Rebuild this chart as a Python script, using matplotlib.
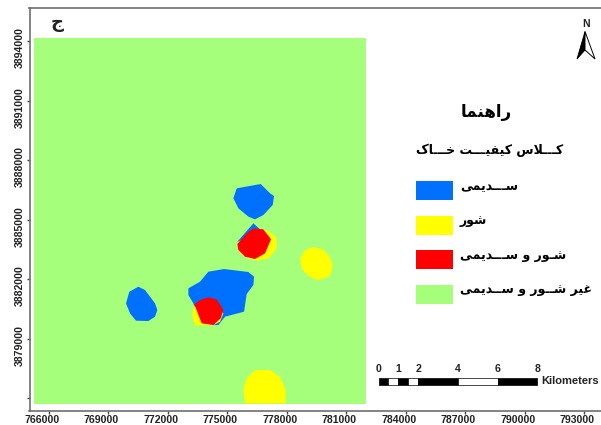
import matplotlib
matplotlib.use("Agg")
import matplotlib.pyplot as plt
from matplotlib.patches import Polygon, Rectangle
from matplotlib.transforms import ScaledTranslation

# map extent and ticks (metres)
x_ticks = list(range(766000, 796000, 3000))
y_ticks = list(range(3876000, 3897000, 3000))
y_labels = ["", "3879000", "3882000", "3885000", "3888000", "3891000", "3894000"]
x_range = (765042, 793857)
y_range = (3875370, 3895664)

study_area = [(765270, 3875700), (782010, 3875700), (782010, 3894150), (765270, 3894150)]

# soil class patches
sodic_north = [(775489, 3886571), (776700, 3886790), (777170, 3886319), (777372, 3886185), (777305, 3885731),
               (776834, 3885227), (776414, 3885008), (776077, 3885143), (775573, 3885563), (775321, 3886067)]
sodic_tip = [(775523, 3883882), (776330, 3884806), (776666, 3884504), (776330, 3884134)]
sodic_centre = [(773052, 3881528), (773640, 3881865), (774060, 3882369), (774850, 3882503), (776077, 3882352),
                (776363, 3882117), (776330, 3881697), (775993, 3881243), (775859, 3880352), (774901, 3880100),
                (774565, 3879679), (773640, 3879679), (773304, 3880772), (773052, 3881192)]
sodic_west = [(769908, 3880772), (770076, 3881360), (770530, 3881612), (770866, 3881444), (771371, 3880772),
              (771488, 3880436), (771371, 3880100), (771034, 3879881), (770412, 3879898), (770110, 3880268)]

saline_north = [(775523, 3883714), (775657, 3883294), (776077, 3883041), (776666, 3882924), (777170, 3883092),
                (777506, 3883546), (777506, 3884050), (777170, 3884386), (776666, 3884554), (775993, 3884302)]
saline_east = [(778683, 3883041), (778935, 3883462), (779355, 3883613), (779860, 3883495), (780196, 3883092),
               (780331, 3882655), (780196, 3882150), (779608, 3881932), (779103, 3882150), (778767, 3882537)]
saline_centre = [(773220, 3880268), (773388, 3880688), (774312, 3880772), (774817, 3880268), (774649, 3879847),
                 (774312, 3879679), (773388, 3879646)]
saline_south = [(775909, 3875729), (775825, 3876485), (775993, 3876990), (776414, 3877410), (777170, 3877410),
                (777674, 3877074), (777960, 3876401), (777960, 3875729)]

both_north = [(775523, 3883764), (775993, 3884302), (776330, 3884554), (776834, 3884504), (777221, 3883999),
              (776918, 3883294), (776414, 3883008), (775909, 3883125), (775573, 3883462)]
both_centre = [(773354, 3880722), (773640, 3880940), (774060, 3881075), (774481, 3880974), (774817, 3880436),
               (774682, 3880015), (774312, 3879679), (773724, 3879763)]

# scale bar breaks in km
scale_breaks = [0, 0.5, 1, 1.5, 2, 4, 6, 8]
scale_labels = [0, 1, 2, 4, 6, 8]
scale_x0 = 782639
scale_y = (3876655, 3877008)

GREEN = "#a6ff7a"
BLUE = "#0070ff"
YELLOW = "#ffff00"
RED = "#ff0000"
GREY = "#6e6e6e"

title_text = "ج"
legend_title = "راهنما"
legend_sub = "کـــلاس کیفیـــت خـــاک"
class_names = ["ســـدیمی", "شور", "شـور و ســـدیمی", "غیر شــور و ســدیمی"]
class_colors = [BLUE, YELLOW, RED, GREEN]

# isolated, final, initial, medial
forms = {
    "ا": "\ufe8d\ufe8e", "د": "\ufea9\ufeaa", "ر": "\ufead\ufeae", "و": "\ufeed\ufeee",
    "ه": "\ufee9\ufeea\ufeeb\ufeec", "ن": "\ufee5\ufee6\ufee7\ufee8", "م": "\ufee1\ufee2\ufee3\ufee4",
    "ک": "\ufb8e\ufb8f\ufb90\ufb91", "ل": "\ufedd\ufede\ufedf\ufee0", "س": "\ufeb1\ufeb2\ufeb3\ufeb4",
    "ش": "\ufeb5\ufeb6\ufeb7\ufeb8", "ی": "\ufbfc\ufbfd\ufbfe\ufbff", "ف": "\ufed1\ufed2\ufed3\ufed4",
    "ت": "\ufe95\ufe96\ufe97\ufe98", "خ": "\ufea5\ufea6\ufea7\ufea8", "غ": "\ufecd\ufece\ufecf\ufed0",
    "ج": "\ufe9d\ufe9e\ufe9f\ufea0",
}


def shape(text):
    # matplotlib does no arabic shaping, so pick the forms here and lay them out left to right
    out = []
    chars = list(text)
    i = 0
    while i < len(chars):
        c = chars[i]
        if c not in forms:
            out.append(c)
            i += 1
            continue
        prev = chars[i - 1] if i > 0 else " "
        joins_prev = prev == "ـ" or (prev in forms and len(forms[prev]) == 4)
        if c == "ل" and i + 1 < len(chars) and chars[i + 1] == "ا":
            out.append("\ufefc" if joins_prev else "\ufefb")
            i += 2
            continue
        nxt = chars[i + 1] if i + 1 < len(chars) else " "
        joins_next = len(forms[c]) == 4 and (nxt == "ـ" or nxt in forms)
        idx = {(False, False): 0, (True, False): 1, (False, True): 2, (True, True): 3}[(joins_prev, joins_next)]
        out.append(forms[c][idx])
        i += 1
    return "".join(reversed(out))


W, H = 601, 425
fig = plt.figure(figsize=(W / 100, H / 100), dpi=100)
ax = fig.add_axes([29.5 / W, 1 - 410.5 / H, (W - 29.5) / W, (410.5 - 8) / H])
ax.set_xlim(x_range)
ax.set_ylim(y_range)


def fx(px):
    return px / W


def fy(py):
    return 1 - py / H


ax.add_patch(Polygon(study_area, closed=True, fc=GREEN, ec="none"))
for poly in [sodic_north, sodic_centre, sodic_west]:
    ax.add_patch(Polygon(poly, closed=True, fc=BLUE, ec="none"))
# yellow goes over the blue here, the tip of blue sits over the north patch
for poly in [saline_east, saline_south, saline_centre, saline_north]:
    ax.add_patch(Polygon(poly, closed=True, fc=YELLOW, ec="none"))
ax.add_patch(Polygon(sodic_tip, closed=True, fc=BLUE, ec="none"))
for poly in [both_north, both_centre]:
    ax.add_patch(Polygon(poly, closed=True, fc=RED, ec="none"))

# ticks
TICK_FONT = dict(fontfamily="Liberation Sans", fontweight="bold", fontsize=7.6, color="#222222")
ax.set_xticks(x_ticks)
ax.set_xticklabels([str(v) for v in x_ticks], **TICK_FONT)
ax.set_yticks(y_ticks)
ax.set_yticklabels(y_labels, rotation=90, va="center", **TICK_FONT)
ax.tick_params(length=2.5, width=1, color="#444444", pad=1)
shift_x = ScaledTranslation(-4.7 / 72, 0, fig.dpi_scale_trans)
shift_y = ScaledTranslation(0, -5 / 72, fig.dpi_scale_trans)
for lab in ax.get_xticklabels():
    lab.set_transform(lab.get_transform() + shift_x)
for lab in ax.get_yticklabels():
    lab.set_transform(lab.get_transform() + shift_y)
for name in ["left", "bottom", "top"]:
    ax.spines[name].set_color(GREY)
    ax.spines[name].set_linewidth(1.2)
ax.spines["right"].set_visible(False)

# scale bar
for i in range(len(scale_breaks) - 1):
    a = scale_x0 + scale_breaks[i] * 1000
    b = scale_x0 + scale_breaks[i + 1] * 1000
    ax.add_patch(Rectangle((a, scale_y[0]), b - a, scale_y[1] - scale_y[0],
                           fc="black" if i % 2 == 0 else "white", ec="black", lw=0.5, clip_on=False))
for km in scale_labels:
    ax.text(scale_x0 + km * 1000, scale_y[1] + 220, str(km), ha="center", va="bottom", **TICK_FONT)
fig.text(fx(541), fy(380.5), "Kilometers", ha="left", va="center",
         fontfamily="Liberation Sans", fontweight="bold", fontsize=8, color="#222222")

# north arrow
fig.patches.append(Polygon([(fx(585), fy(31.5)), (fx(577), fy(59)), (fx(585), fy(50))], closed=True,
                           fc="black", ec="black", lw=0.6, transform=fig.transFigure))
fig.patches.append(Polygon([(fx(585), fy(31.5)), (fx(595), fy(59)), (fx(585), fy(50))], closed=True,
                           fc="white", ec="black", lw=0.7, transform=fig.transFigure))
fig.text(fx(586.5), fy(24), "N", ha="center", va="center", fontfamily="Liberation Sans", fontweight="bold", fontsize=7.5, color="#222222")

# titles, legend
fig.text(fx(57), fy(23), shape(title_text), ha="center", va="center", fontfamily="DejaVu Sans", fontweight="bold", fontsize=13, color="#222222")
fig.text(fx(486), fy(112), shape(legend_title), ha="center", va="center", fontfamily="DejaVu Sans", fontweight="bold", fontsize=12, color="black")
fig.text(fx(490), fy(150), shape(legend_sub), ha="center", va="center", fontfamily="DejaVu Sans", fontweight="bold", fontsize=9, color="black")

swatch_tops = [181, 216, 250, 285]
label_mid = [187, 220, 255, 290]
for name, col, top, mid in zip(class_names, class_colors, swatch_tops, label_mid):
    fig.patches.append(Rectangle((fx(416), fy(top + 18.5)), 37 / W, 18.5 / H, fc=col, ec="none", transform=fig.transFigure))
    fig.text(fx(460), fy(mid), shape(name), ha="left", va="center", fontfamily="DejaVu Sans", fontweight="bold", fontsize=9, color="black")

fig.savefig("out.png", dpi=100)
